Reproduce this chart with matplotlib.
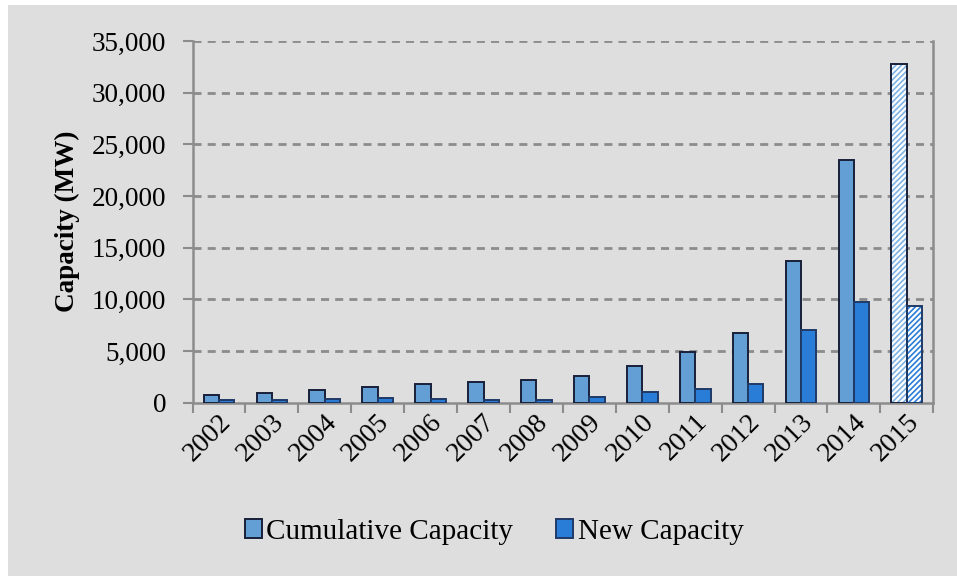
import matplotlib.pyplot as plt
import matplotlib.patches as mpatches
import matplotlib.transforms as mtransforms
import numpy as np
from matplotlib.ticker import FuncFormatter

years = ["2002", "2003", "2004", "2005", "2006", "2007", "2008",
         "2009", "2010", "2011", "2012", "2013", "2014", "2015"]
cumulative = [720, 970, 1230, 1520, 1810, 2050, 2200,
              2580, 3580, 4900, 6700, 13700, 23470, 32750]
new_capacity = [250, 250, 370, 430, 370, 250, 260,
                520, 1030, 1320, 1810, 7000, 9770, 9320]
projected = [False] * 13 + [True]

CUM_COLOR = "#639ed4"
NEW_COLOR = "#2a7dd7"
CUM_EDGE = "#18203a"
NEW_EDGE = "#1f3a66"
AXIS_GRAY = "#8c8c8c"
PANEL = "#dedede"

plt.rcParams["font.family"] = ["Liberation Serif", "DejaVu Serif"]
plt.rcParams["hatch.linewidth"] = 1.2

fig = plt.figure(figsize=(9.57, 5.76), dpi=100, facecolor="white")
panel = mpatches.Rectangle((8 / 957, 0), 1, 1 - 5 / 576,
                           transform=fig.transFigure,
                           facecolor=PANEL, edgecolor="none", zorder=-10)
fig.add_artist(panel)

ax = fig.add_axes([192.5 / 957, 173.3 / 576, 740.8 / 957, 361.7 / 576])
ax.set_facecolor(PANEL)

x = np.arange(len(years))
w = 0.29
lw = 1.4

for i in x:
    if projected[i]:
        # projected year: white bars with diagonal hatching
        ax.bar(i - w / 2, cumulative[i], w, color="white",
               edgecolor="#7fb2e2", hatch="//////", linewidth=0, zorder=3)
        ax.bar(i + w / 2, new_capacity[i], w, color="white",
               edgecolor=NEW_COLOR, hatch="//////", linewidth=0, zorder=3)
        ax.bar(i - w / 2, cumulative[i], w, fill=False,
               edgecolor=CUM_EDGE, linewidth=lw, zorder=4)
        ax.bar(i + w / 2, new_capacity[i], w, fill=False,
               edgecolor=NEW_EDGE, linewidth=lw, zorder=4)
    else:
        ax.bar(i - w / 2, cumulative[i], w, color=CUM_COLOR,
               edgecolor=CUM_EDGE, linewidth=lw, zorder=3)
        ax.bar(i + w / 2, new_capacity[i], w, color=NEW_COLOR,
               edgecolor=NEW_EDGE, linewidth=lw, zorder=3)

ax.set_xlim(-0.5, len(years) - 0.5)
ax.set_ylim(0, 35000)
ax.set_yticks(range(0, 35001, 5000))
ax.yaxis.set_major_formatter(FuncFormatter(lambda v, p: f"{int(v):,}"))

for y in range(5000, 35001, 5000):
    ax.axhline(y, color=AXIS_GRAY, linewidth=2.0,
               linestyle=(0, (2.9, 2.2)), zorder=1)

# tick marks sit between categories, labels at the centres
ax.set_xticks(np.arange(len(years) + 1) - 0.5)
ax.set_xticklabels([])
ax.set_xticks(x, minor=True)
ax.set_xticklabels(years, minor=True, rotation=45, ha="right",
                   va="center", rotation_mode="anchor", fontsize=20)
ax.tick_params(axis="x", which="major", length=7, width=1.5,
               color=AXIS_GRAY, direction="out")
ax.tick_params(axis="x", which="minor", length=0, pad=11)
ax.tick_params(axis="y", length=7, width=1.5, color=AXIS_GRAY,
               direction="out", labelsize=19.5, pad=12)

# nudge the slanted year labels to the right of their tick
shift = mtransforms.ScaledTranslation(8 / 100, 0, fig.dpi_scale_trans)
for lab in ax.get_xticklabels(minor=True):
    lab.set_transform(lab.get_transform() + shift)

for side in ["left", "bottom", "right"]:
    ax.spines[side].set_color(AXIS_GRAY)
    ax.spines[side].set_linewidth(1.8)
ax.spines["top"].set_visible(False)

fig.text(67 / 957, 0.6155, "Capacity (MW)", rotation=90, ha="center",
         va="center", fontsize=19.5, fontweight="bold")

handles = [mpatches.Patch(facecolor=CUM_COLOR, edgecolor=CUM_EDGE,
                          linewidth=lw, label="Cumulative Capacity"),
           mpatches.Patch(facecolor=NEW_COLOR, edgecolor=NEW_EDGE,
                          linewidth=lw, label="New Capacity")]
fig.legend(handles=handles, loc="center", bbox_to_anchor=(494 / 957, 0.0764),
           ncol=2, frameon=False, fontsize=21, handlelength=0.6,
           handleheight=0.6, handletextpad=0.15, columnspacing=1.45)

fig.savefig("out.png", dpi=100, facecolor="white")
